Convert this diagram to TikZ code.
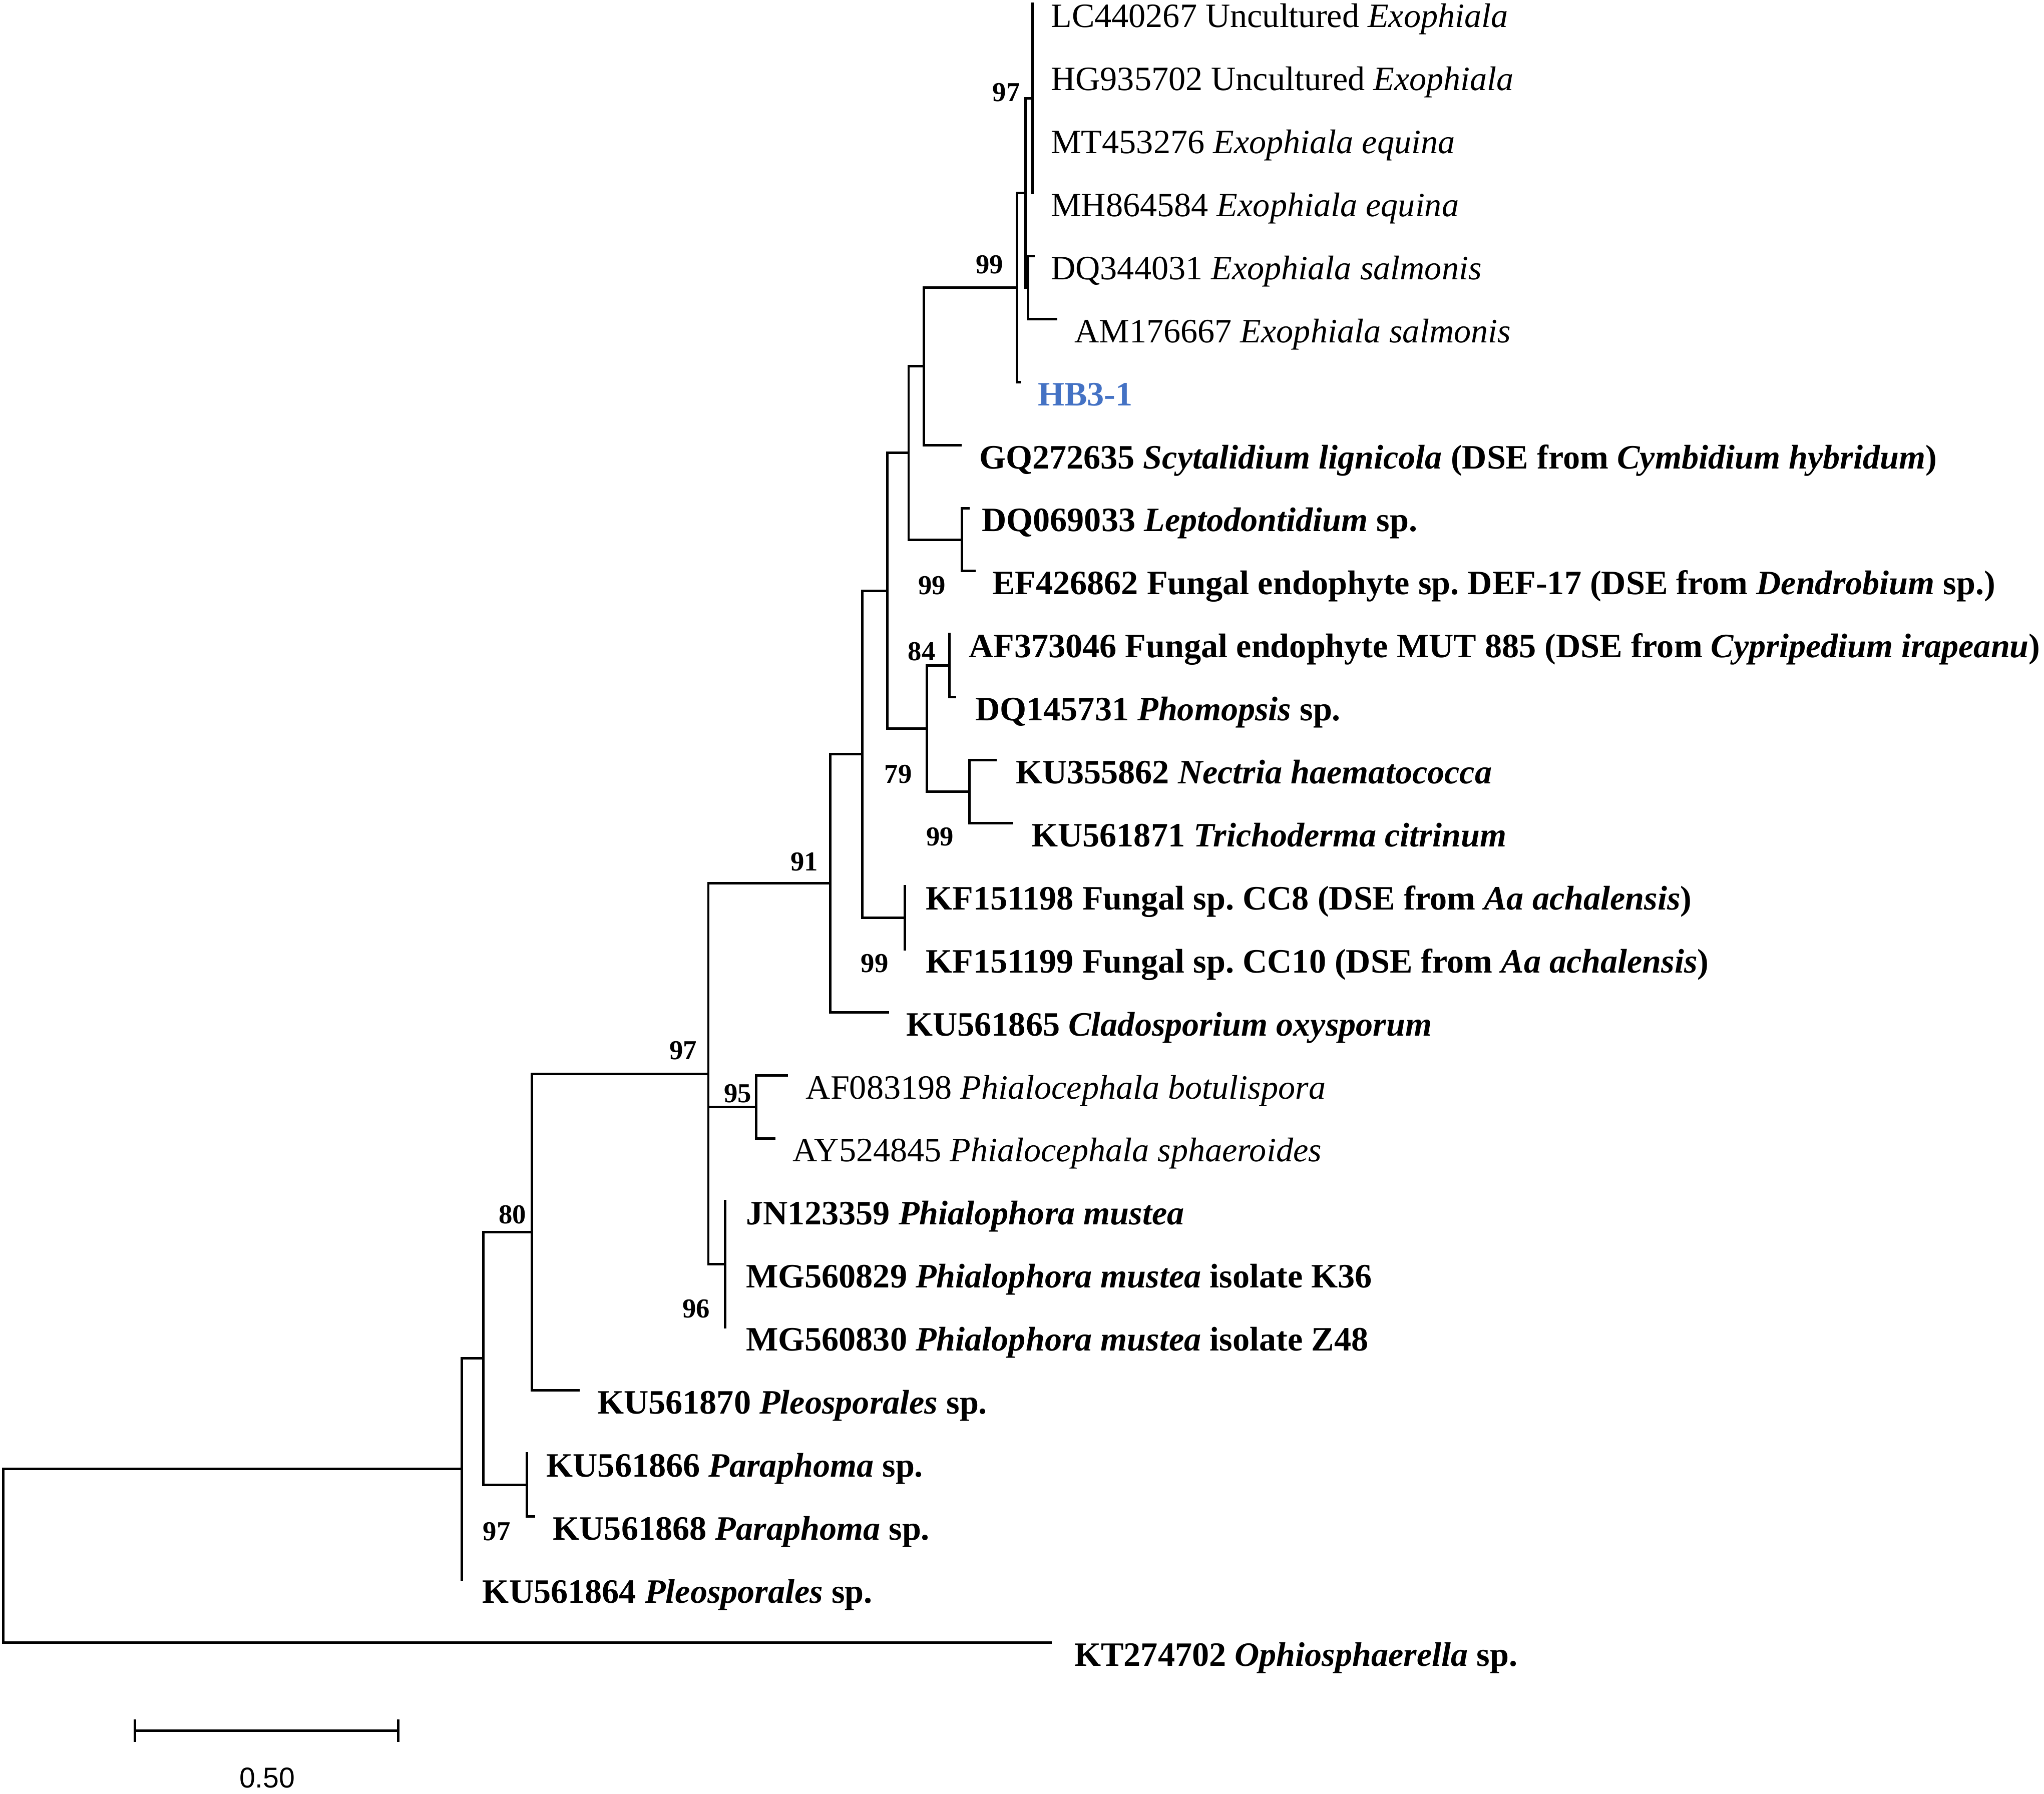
\documentclass[tikz,border=0pt]{standalone}
\usepackage{fontspec}
\setmainfont{Liberation Serif}
\newfontfamily\sbfont{Liberation Sans}
\definecolor{hbblue}{HTML}{4472C4}
\frenchspacing
\begin{document}
\begin{tikzpicture}[x=1pt,y=-1pt,
  br/.style={line width=1.9pt, line cap=rect},
  lab/.style={anchor=base west, inner sep=0pt, font=\fontsize{26.2}{30}\selectfont},
  blab/.style={lab, font=\fontsize{26.2}{30}\selectfont\bfseries},
  sup/.style={anchor=center, inner sep=0pt, font=\fontsize{21}{24}\selectfont\bfseries}]
\useasboundingbox (0,0) rectangle (1568,1376);
\fill[white] (0,0) rectangle (1568,1376);
% tips
\coordinate (t1) at (792,3);
\coordinate (t2) at (792,51.35);
\coordinate (t3) at (792,99.7);
\coordinate (t4) at (792,148.05);
\coordinate (t5) at (793,196.4);
\coordinate (t6) at (810,244.75);
\coordinate (t7) at (782,293.1);
\coordinate (t8) at (736.6,341.45);
\coordinate (t9) at (743,389.8);
\coordinate (t10) at (747.6,438.15);
\coordinate (t11) at (728.4,486.5);
\coordinate (t12) at (732.7,534.85);
\coordinate (t13) at (763.5,583.2);
\coordinate (t14) at (776.4,631.55);
\coordinate (t15) at (694.3,679.9);
\coordinate (t16) at (694.3,728.25);
\coordinate (t17) at (681,776.6);
\coordinate (t18) at (603.6,824.95);
\coordinate (t19) at (594,873.3);
\coordinate (t20) at (556.2,921.65);
\coordinate (t21) at (556.2,970);
\coordinate (t22) at (556.2,1018.35);
\coordinate (t23) at (443.6,1066.7);
\coordinate (t24) at (404.2,1115.05);
\coordinate (t25) at (409.6,1163.4);
\coordinate (t26) at (354.3,1211.75);
\coordinate (t27) at (806,1260.1);
% internal nodes
\coordinate (nA) at (792,75.5);
\coordinate (nS) at (788.6,220.6);
\coordinate (nB) at (786.5,148.05);
\coordinate (nC) at (780,220.6);
\coordinate (nD) at (708.8,281);
\coordinate (nL) at (738,414);
\coordinate (nE) at (697,347.5);
\coordinate (n84) at (728.4,510.7);
\coordinate (nN) at (743.7,607.4);
\coordinate (n79) at (711,559);
\coordinate (nF) at (680.7,453.2);
\coordinate (nK) at (694.3,704.1);
\coordinate (nG) at (661.5,578.6);
\coordinate (n91) at (636.8,677.6);
\coordinate (n95) at (579.9,849.1);
\coordinate (n96) at (556.2,970);
\coordinate (n97) at (543.4,823.8);
\coordinate (n80) at (408,945.25);
\coordinate (nP) at (404.2,1139.2);
\coordinate (nH) at (370.6,1042.2);
\coordinate (nI) at (354.3,1127);
\coordinate (root) at (2.5,1193.5);
% branches
\draw[br] (nA) |- (t1); \draw[br] (nA) |- (t4);
\draw[br] (nS) |- (t5); \draw[br] (nS) |- (t6);
\draw[br] (nB) |- (nA); \draw[br] (nB) |- (nS);
\draw[br] (nC) |- (nB); \draw[br] (nC) |- (t7);
\draw[br] (nD) |- (nC); \draw[br] (nD) |- (t8);
\draw[br] (nL) |- (t9); \draw[br] (nL) |- (t10);
\draw[br] (nE) |- (nD); \draw[br] (nE) |- (nL);
\draw[br] (n84) |- (t11); \draw[br] (n84) |- (t12);
\draw[br] (nN) |- (t13); \draw[br] (nN) |- (t14);
\draw[br] (n79) |- (n84); \draw[br] (n79) |- (nN);
\draw[br] (nF) |- (nE); \draw[br] (nF) |- (n79);
\draw[br] (nK) |- (t15); \draw[br] (nK) |- (t16);
\draw[br] (nG) |- (nF); \draw[br] (nG) |- (nK);
\draw[br] (n91) |- (nG); \draw[br] (n91) |- (t17);
\draw[br] (n95) |- (t18); \draw[br] (n95) |- (t19);
\draw[br] (n96) |- (t20); \draw[br] (n96) |- (t22);
\draw[br] (n97) |- (n91); \draw[br] (n97) |- (n95); \draw[br] (n97) |- (n96);
\draw[br] (n80) |- (n97); \draw[br] (n80) |- (t23);
\draw[br] (nP) |- (t24); \draw[br] (nP) |- (t25);
\draw[br] (nH) |- (n80); \draw[br] (nH) |- (nP);
\draw[br] (nI) |- (nH); \draw[br] (nI) |- (t26);
\draw[br] (root) |- (nI); \draw[br] (root) |- (t27);
% tip labels
\node[lab] (l1) at (806,21) {LC440267 Uncultured \textit{Exophiala}};
\node[lab] (l2) at (806,69.35) {HG935702 Uncultured \textit{Exophiala}};
\node[lab] (l3) at (806,117.7) {MT453276 \textit{Exophiala equina}};
\node[lab] (l4) at (806,166.05) {MH864584 \textit{Exophiala equina}};
\node[lab] (l5) at (806,214.4) {DQ344031 \textit{Exophiala salmonis}};
\node[lab] (l6) at (824,262.75) {AM176667 \textit{Exophiala salmonis}};
\node[blab, text=hbblue] (l7) at (796,311.1) {HB3-1};
\node[blab] (l8) at (751,359.45) {GQ272635 \textit{Scytalidium lignicola} (DSE from \textit{Cymbidium hybridum})};
\node[blab] (l9) at (753,407.8) {DQ069033 \textit{Leptodontidium} sp.};
\node[blab] (l10) at (761,456.15) {EF426862 Fungal endophyte sp. DEF-17 (DSE from \textit{Dendrobium} sp.)};
\node[blab] (l11) at (743,504.5) {AF373046 Fungal endophyte MUT 885 (DSE from \textit{Cypripedium irapeanu})};
\node[blab] (l12) at (748,552.85) {DQ145731 \textit{Phomopsis} sp.};
\node[blab] (l13) at (779,601.2) {KU355862 \textit{Nectria haematococca}};
\node[blab] (l14) at (791,649.55) {KU561871 \textit{Trichoderma citrinum}};
\node[blab] (l15) at (710,697.9) {KF151198 Fungal sp. CC8 (DSE from \textit{Aa achalensis})};
\node[blab] (l16) at (710,746.25) {KF151199 Fungal sp. CC10 (DSE from \textit{Aa achalensis})};
\node[blab] (l17) at (695,794.6) {KU561865 \textit{Cladosporium oxysporum}};
\node[lab] (l18) at (618,842.95) {AF083198 \textit{Phialocephala botulispora}};
\node[lab] (l19) at (608,891.3) {AY524845 \textit{Phialocephala sphaeroides}};
\node[blab] (l20) at (572,939.65) {JN123359 \textit{Phialophora mustea}};
\node[blab] (l21) at (572,988) {MG560829 \textit{Phialophora mustea} isolate K36};
\node[blab] (l22) at (572,1036.35) {MG560830 \textit{Phialophora mustea} isolate Z48};
\node[blab] (l23) at (458,1084.7) {KU561870 \textit{Pleosporales} sp.};
\node[blab] (l24) at (419,1133.05) {KU561866 \textit{Paraphoma} sp.};
\node[blab] (l25) at (424,1181.4) {KU561868 \textit{Paraphoma} sp.};
\node[blab] (l26) at (370,1229.75) {KU561864 \textit{Pleosporales} sp.};
\node[blab] (l27) at (824,1278.1) {KT274702 \textit{Ophiosphaerella} sp.};
% support values
\node[sup] (s1) at (772,71) {97};
\node[sup] (s2) at (759,203) {99};
\node[sup] (s3) at (715,449) {99};
\node[sup] (s4) at (707,500) {84};
\node[sup] (s5) at (689,594) {79};
\node[sup] (s6) at (721,642) {99};
\node[sup] (s7) at (671,739) {99};
\node[sup] (s8) at (617,661) {91};
\node[sup] (s9) at (524,806) {97};
\node[sup] (s10) at (566,839) {95};
\node[sup] (s11) at (534,1004) {96};
\node[sup] (s12) at (393,932) {80};
\node[sup] (s13) at (381,1175) {97};
% scale bar
\coordinate (sb1) at (103.4,1327.8);
\coordinate (sb2) at (305.4,1327.8);
\draw[line width=1.9pt] (sb1) -- (sb2);
\draw[line width=1.9pt] ([yshift=-8.7pt]sb1) -- ([yshift=8.7pt]sb1);
\draw[line width=1.9pt] ([yshift=-8.7pt]sb2) -- ([yshift=8.7pt]sb2);
\node[inner sep=0pt, font=\sbfont\fontsize{22}{26}\selectfont] (sbl) at (205,1364) {0.50};
\end{tikzpicture}
\end{document}
